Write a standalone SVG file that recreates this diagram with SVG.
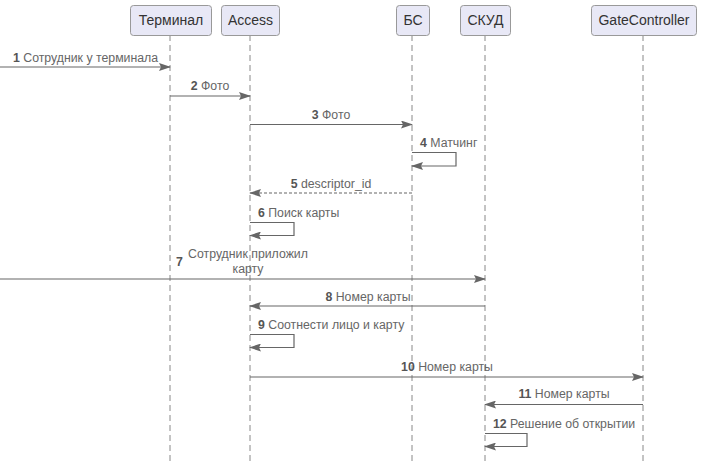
<svg xmlns="http://www.w3.org/2000/svg" width="702" height="470" viewBox="0 0 702 470">
<defs>
<marker id="ah" markerWidth="12" markerHeight="8" refX="11" refY="4" orient="auto" markerUnits="userSpaceOnUse">
<path d="M0,0 L12,4 L0,8 L2,4 Z" fill="#666"/>
</marker>
</defs>
<style>
.box{fill:#e8e8f6;stroke:#999;stroke-width:1}
.pt{font-family:"Liberation Sans",Arial,sans-serif;font-size:14px;fill:#333;text-anchor:middle}
.life{stroke:#888;stroke-width:1;stroke-dasharray:6,4;fill:none}
.msg{stroke:#666;stroke-width:1.2;fill:none;marker-end:url(#ah)}
.dash{stroke-dasharray:3,2}
.lb{font-family:"Liberation Sans",Arial,sans-serif;font-size:12.3px;fill:#666}
.n{font-weight:bold;fill:#555}
</style>
<rect width="702" height="470" fill="#fff"/>
<g id="lifelines">
<line class="life" x1="170" y1="35" x2="170" y2="462"/>
<line class="life" x1="250" y1="35" x2="250" y2="462"/>
<line class="life" x1="412" y1="35" x2="412" y2="462"/>
<line class="life" x1="485" y1="35" x2="485" y2="462"/>
<line class="life" x1="643" y1="35" x2="643" y2="462"/>
</g>
<g id="terminal"><rect class="box" x="130.5" y="5.5" width="81" height="30" rx="3"/><text class="pt" x="171" y="25">Терминал</text></g>
<g id="access"><rect class="box" x="221.5" y="5.5" width="58" height="30" rx="3"/><text class="pt" x="250.5" y="25">Access</text></g>
<g id="bs"><rect class="box" x="396.5" y="5.5" width="33" height="30" rx="3"/><text class="pt" x="413" y="25">БС</text></g>
<g id="skud"><rect class="box" x="460.5" y="5.5" width="50" height="30" rx="3"/><text class="pt" x="485.5" y="25">СКУД</text></g>
<g id="gate"><rect class="box" x="591.5" y="5.5" width="105" height="30" rx="3"/><text class="pt" x="644" y="25">GateController</text></g>
<g id="connectors">
<line class="msg" x1="0" y1="67" x2="170" y2="67"/>
<text class="lb" x="13" y="62"><tspan class="n">1</tspan> Сотрудник у терминала</text>
<line class="msg" x1="170" y1="96" x2="250" y2="96"/>
<text class="lb" x="210" y="90" text-anchor="middle"><tspan class="n">2</tspan> Фото</text>
<line class="msg" x1="250" y1="124.5" x2="412" y2="124.5"/>
<text class="lb" x="331" y="119" text-anchor="middle"><tspan class="n">3</tspan> Фото</text>
<path class="msg" d="M412,152.5 H456 V166 H412"/>
<text class="lb" x="420" y="147"><tspan class="n">4</tspan> Матчинг</text>
<line class="msg dash" x1="412" y1="193" x2="250" y2="193"/>
<text class="lb" x="331" y="188" text-anchor="middle"><tspan class="n">5</tspan> descriptor_id</text>
<path class="msg" d="M250,222.5 H294 V235.5 H250"/>
<text class="lb" x="258" y="217"><tspan class="n">6</tspan> Поиск карты</text>
<line class="msg" x1="0" y1="279" x2="485" y2="279"/>
<text class="lb n" x="176" y="266">7</text>
<text class="lb" x="248" y="258" text-anchor="middle">Сотрудник приложил</text>
<text class="lb" x="248" y="273" text-anchor="middle">карту</text>
<line class="msg" x1="485" y1="306" x2="250" y2="306"/>
<text class="lb" x="368" y="301" text-anchor="middle"><tspan class="n">8</tspan> Номер карты</text>
<path class="msg" d="M250,334.5 H294 V347.5 H250"/>
<text class="lb" x="258" y="329"><tspan class="n">9</tspan> Соотнести лицо и карту</text>
<line class="msg" x1="250" y1="377" x2="643" y2="377"/>
<text class="lb" x="447" y="371" text-anchor="middle"><tspan class="n">10</tspan> Номер карты</text>
<line class="msg" x1="643" y1="404.5" x2="485" y2="404.5"/>
<text class="lb" x="564" y="398" text-anchor="middle"><tspan class="n">11</tspan> Номер карты</text>
<path class="msg" d="M485,433.5 H527 V446.5 H485"/>
<text class="lb" x="493" y="428"><tspan class="n">12</tspan> Решение об открытии</text>
</g>
</svg>
